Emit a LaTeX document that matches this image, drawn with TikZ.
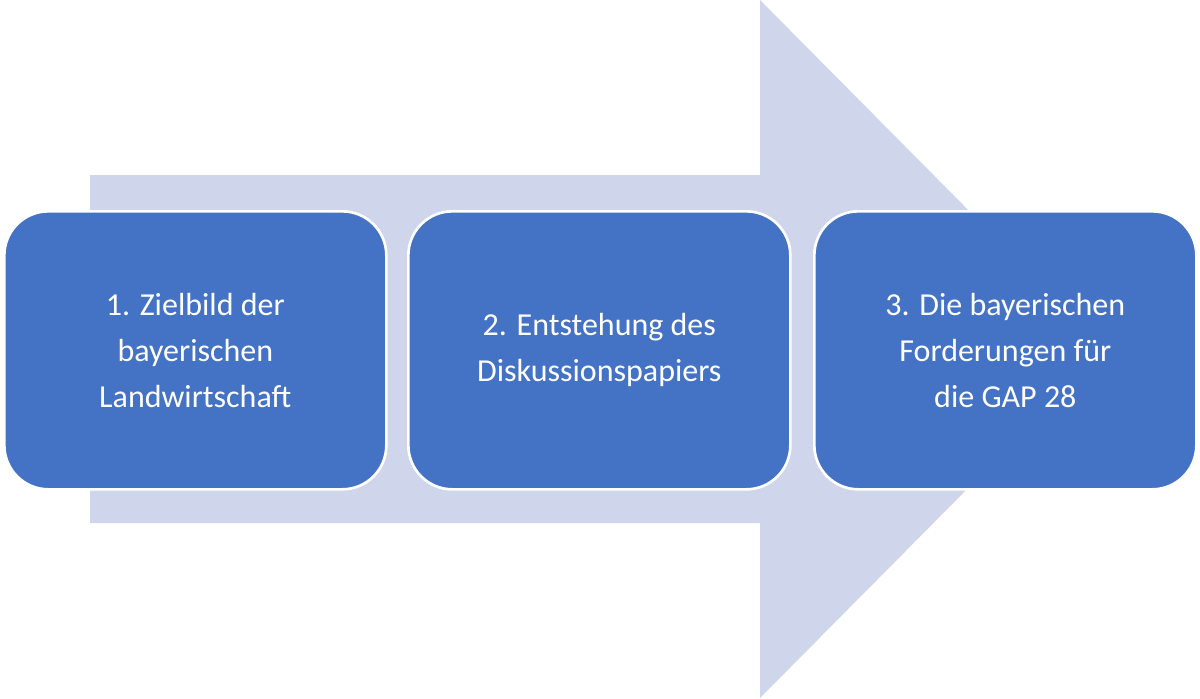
\documentclass[tikz,border=0pt]{standalone}
\usepackage{fontspec}
\setmainfont{Carlito}
\begin{document}
\begin{tikzpicture}[x=0.75pt,y=-0.75pt,
  box/.style={draw=white,line width=2pt,fill=boxblue,rounded corners=33pt,minimum width=382*0.75pt,minimum height=278*0.75pt,text=white,align=center,font=\fontsize{24}{34.5}\selectfont,anchor=north west}]
\definecolor{boxblue}{RGB}{68,114,196}
\definecolor{arrowc}{RGB}{207,213,234}
\useasboundingbox (0,0) rectangle (1200,699);
\fill[arrowc] (90,175) -- (760,175) -- (760,0) -- (1106,349) -- (760,698) -- (760,523) -- (90,523) -- cycle;
\node[box] (a) at (3,210) {1. Zielbild der\\bayerischen\\Landwirtschaft};
\node[box] (b) at (407,210) {2. Entstehung des\\Diskussionspapiers};
\node[box] (c) at (813,210) {3. Die bayerischen\\Forderungen für\\die GAP 28};
\end{tikzpicture}
\end{document}
